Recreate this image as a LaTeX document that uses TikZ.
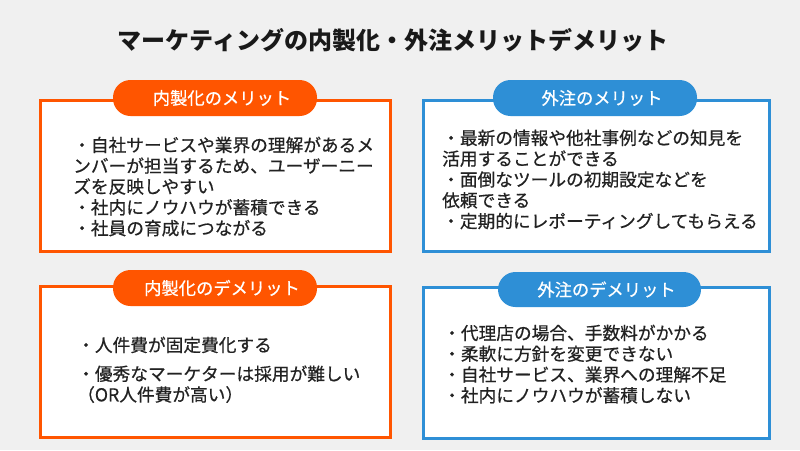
\documentclass[tikz,border=0pt]{standalone}
\usepackage{fontspec}
\setmainfont{Noto Sans CJK JP}
\newfontfamily\jp{Noto Sans CJK JP}
\newfontfamily\jpm[FakeBold=0.6]{Noto Sans CJK JP}
\definecolor{bgc}{HTML}{F0F0F0}
\definecolor{orng}{RGB}{255,85,0}
\definecolor{blu}{RGB}{46,143,214}
\definecolor{txt}{HTML}{222222}
\tikzset{
  panel/.style={draw=#1, line width=3pt, fill=white},
  pill/.style={fill=#1, rounded corners=17.5pt, minimum width=204pt, minimum height=36pt, inner sep=0pt, text=white, font=\jpm\fontsize{17.3}{20}\selectfont},
  bodytext/.style={anchor=north west, align=left, inner sep=0pt, text=txt, font=\jpm\fontsize{17.7}{20.8}\selectfont},
  titletext/.style={text=black!90, font=\jp\bfseries\fontsize{24}{28}\selectfont}
}
\begin{document}
\begin{tikzpicture}[x=1pt,y=-1pt]
\fill[bgc] (0,0) rectangle (800,450);
\useasboundingbox (0,0) rectangle (800,450);
\node[titletext] (title) at (393,40) {マーケティングの内製化・外注メリットデメリット};
% panels
\draw[panel=orng] (40.5,100.5) rectangle (390.5,251.5);
\draw[panel=blu] (423.5,100.5) rectangle (769.5,251.5);
\draw[panel=orng] (40.5,286.5) rectangle (390.5,437.5);
\draw[panel=blu] (423.5,287.5) rectangle (769.5,438.5);
% pills
\node[pill=orng] (p1) at (215,98) {\hspace*{14pt}内製化のメリット};
\node[pill=blu] (p2) at (595,98) {\hspace*{14pt}外注のメリット};
\node[pill=orng] (p3) at (215,288) {\hspace*{14pt}内製化のデメリット};
\node[pill=blu, minimum width=203pt, minimum height=35pt] (p4) at (599.5,289.5) {\hspace*{14pt}外注のデメリット};
% texts
\node[bodytext] (t1) at (73,136.5) {・自社サービスや業界の理解があるメ\\ンバーが担当するため、ユーザーニー\\ズを反映しやすい\\・社内にノウハウが蓄積できる\\・社員の育成につながる};
\node[bodytext] (t2) at (442,129.5) {・最新の情報や他社事例などの知見を\\活用することができる\\・面倒なツールの初期設定などを\\依頼できる\\・定期的にレポーティングしてもらえる};
\node[bodytext] (t3) at (77,336.5) {・人件費が固定費化する\\[8pt]・優秀なマーケターは採用が難しい\\（OR人件費が高い）};
\node[bodytext] (t4) at (443,324.5) {・代理店の場合、手数料がかかる\\・柔軟に方針を変更できない\\・自社サービス、業界への理解不足\\・社内にノウハウが蓄積しない};
\end{tikzpicture}
\end{document}
